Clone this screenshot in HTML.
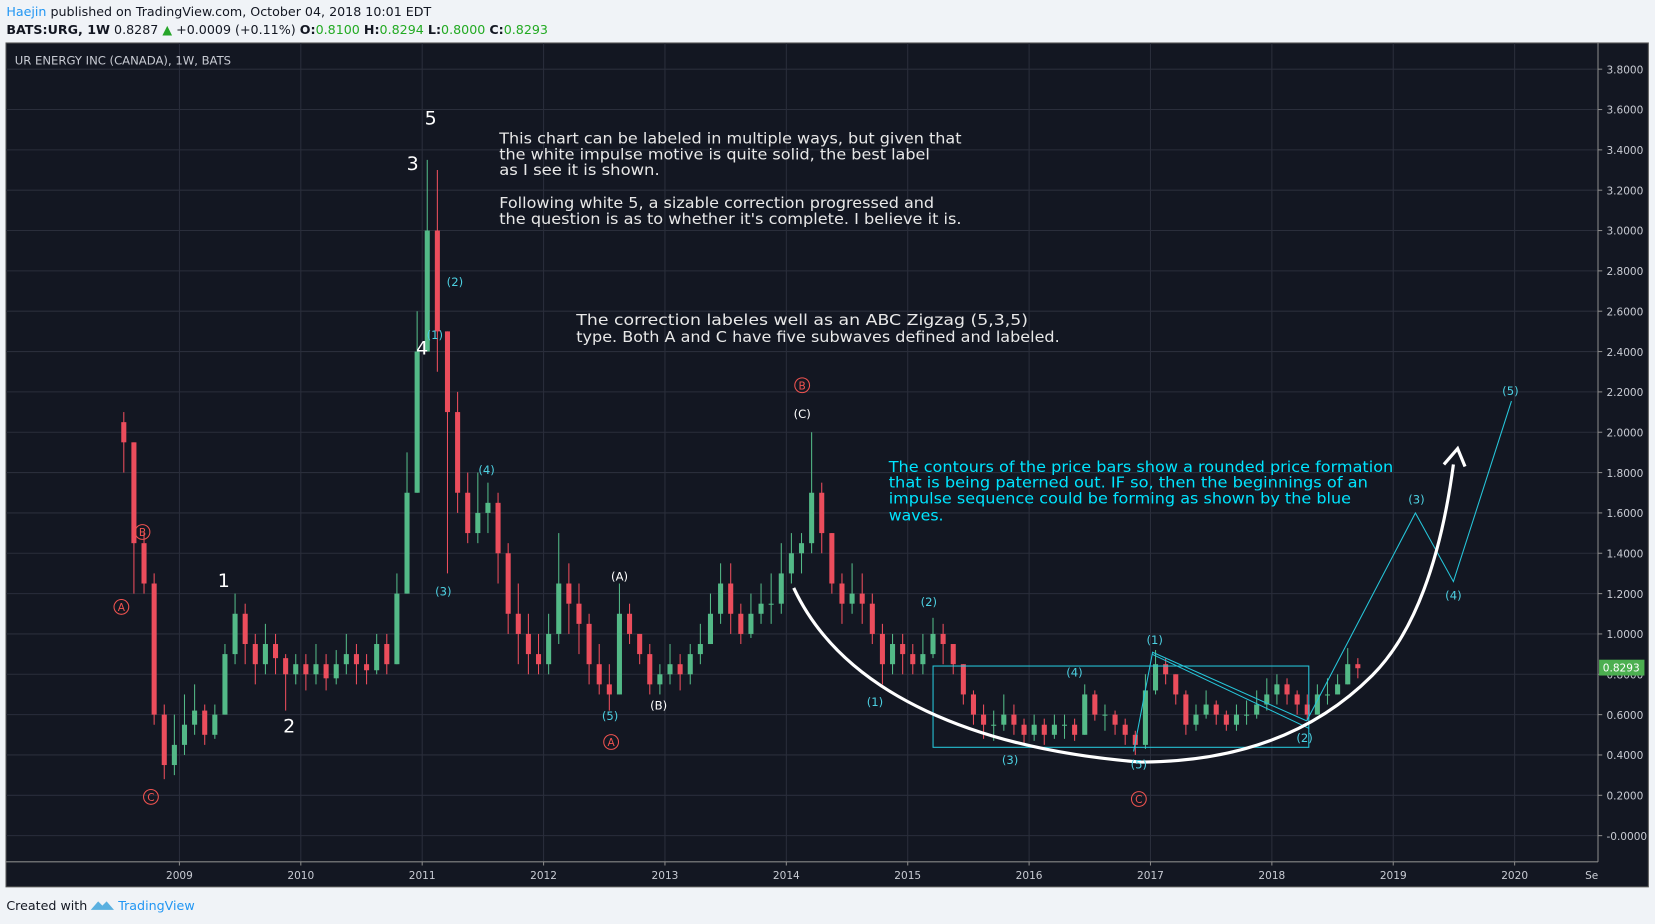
<!DOCTYPE html>
<html><head><meta charset="utf-8">
<style>
html,body{margin:0;padding:0;background:#f0f3f7;}
svg{display:block;}
text{font-family:"DejaVu Sans","Liberation Sans",sans-serif;}
</style></head>
<body>
<svg id="chart" width="1655" height="924" viewBox="0 0 1568 875.4" xmlns="http://www.w3.org/2000/svg">
  <rect x="0" y="0" width="1568" height="875.4" fill="#f0f3f7"/>
  <text x="6" y="15" font-size="12" fill="#131722"><tspan fill="#2196f3">Haejin</tspan> published on TradingView.com, October 04, 2018 10:01 EDT</text>
  <text x="6" y="32" font-size="12" fill="#131722"><tspan font-weight="bold">BATS:URG, 1W</tspan> 0.8287 <tspan fill="#26a629">▲</tspan> +0.0009 (+0.11%) <tspan font-weight="bold">O:</tspan><tspan fill="#22aa22">0.8100</tspan> <tspan font-weight="bold">H:</tspan><tspan fill="#22aa22">0.8294</tspan> <tspan font-weight="bold">L:</tspan><tspan fill="#22aa22">0.8000</tspan> <tspan font-weight="bold">C:</tspan><tspan fill="#22aa22">0.8293</tspan></text>
  <rect x="5.7" y="40.7" width="1556" height="799.5" fill="#131722" stroke="#555" stroke-width="1"/>
  <g id="grid"></g>
  <line x1="1514" y1="40.7" x2="1514" y2="816.5" stroke="#888" stroke-width="1"/>
  <line x1="5.7" y1="816.5" x2="1514" y2="816.5" stroke="#888" stroke-width="1"/>
  <g id="axes"></g>
  <text x="14" y="61" font-size="11" fill="#c8cbd3">UR ENERGY INC (CANADA), 1W, BATS</text>
  <g id="candles"></g>
  <g id="overlay">
    <rect x="884" y="631" width="356" height="77" fill="none" stroke="#26c6da" stroke-width="1"/>
    <polyline points="1074,712 1092,618 1238,683" fill="none" stroke="#26c6da" stroke-width="1"/>
    <polyline points="1092,620 1240,690" fill="none" stroke="#26c6da" stroke-width="1"/>
    <polyline points="1238,683 1341,486 1377,551 1432,380" fill="none" stroke="#26c6da" stroke-width="1"/>
    <path d="M752,557 C800,660 930,710 1080,722 C1180,722 1250,690 1300,640 C1340,600 1365,530 1377,440" fill="none" stroke="#ffffff" stroke-width="3"/>
    <polyline points="1368,440 1381,425 1388,442" fill="none" stroke="#ffffff" stroke-width="3"/>
    <g font-size="14" fill="#e8e8e8">
      <text x="473" y="136" textLength="438" lengthAdjust="spacingAndGlyphs">This chart can be labeled in multiple ways, but given that</text>
      <text x="473" y="151" textLength="408" lengthAdjust="spacingAndGlyphs">the white impulse motive is quite solid, the best label</text>
      <text x="473" y="166" textLength="152" lengthAdjust="spacingAndGlyphs">as I see it is shown.</text>
      <text x="473" y="197" textLength="412" lengthAdjust="spacingAndGlyphs">Following white 5, a sizable correction progressed and</text>
      <text x="473" y="212" textLength="438" lengthAdjust="spacingAndGlyphs">the question is as to whether it's complete. I believe it is.</text>
      <text x="546" y="308" textLength="428" lengthAdjust="spacingAndGlyphs">The correction labeles well as an ABC Zigzag (5,3,5)</text>
      <text x="546" y="324" textLength="458" lengthAdjust="spacingAndGlyphs">type. Both A and C have five subwaves defined and labeled.</text>
    </g>
    <g font-size="14" fill="#00e5ff">
      <text x="842" y="447" textLength="478" lengthAdjust="spacingAndGlyphs">The contours of the price bars show a rounded price formation</text>
      <text x="842" y="462" textLength="454" lengthAdjust="spacingAndGlyphs">that is being paterned out. IF so, then the beginnings of an</text>
      <text x="842" y="477" textLength="438" lengthAdjust="spacingAndGlyphs">impulse sequence could be forming as shown by the blue</text>
      <text x="842" y="493" textLength="52" lengthAdjust="spacingAndGlyphs">waves.</text>
    </g>
    <g fill="#ffffff" font-size="18" text-anchor="middle">
      <text x="408" y="118">5</text><text x="391" y="161">3</text><text x="400" y="336">4</text>
      <text x="212" y="556">1</text><text x="274" y="694">2</text>
    </g>
    <g fill="#ffffff" font-size="11" text-anchor="middle">
      <text x="760" y="396">(C)</text><text x="587" y="550">(A)</text><text x="624" y="672">(B)</text>
    </g>
    <g fill="#4dd0e1" font-size="11" text-anchor="middle">
      <text x="431" y="271">(2)</text><text x="412" y="321">(1)</text><text x="461" y="449">(4)</text><text x="420" y="564">(3)</text>
      <text x="578" y="682">(5)</text><text x="880" y="574">(2)</text><text x="829" y="669">(1)</text><text x="957" y="724">(3)</text>
      <text x="1018" y="641">(4)</text><text x="1079" y="728">(5)</text><text x="1094" y="610">(1)</text><text x="1236" y="703">(2)</text>
      <text x="1342" y="477">(3)</text><text x="1377" y="568">(4)</text><text x="1431" y="374">(5)</text>
    </g>
    <g fill="none" stroke="#ef5350" stroke-width="1">
      <circle cx="115" cy="575" r="7"/><circle cx="135" cy="504" r="7"/><circle cx="143" cy="755" r="7"/>
      <circle cx="579" cy="703" r="7"/><circle cx="760" cy="365" r="7"/><circle cx="1079" cy="757" r="7"/>
    </g>
    <g fill="#ef5350" font-size="10" text-anchor="middle">
      <text x="115" y="579">A</text><text x="135" y="508">B</text><text x="143" y="759">C</text>
      <text x="579" y="707">A</text><text x="760" y="369">B</text><text x="1079" y="761">C</text>
    </g>
  </g>
  <rect x="1515" y="625" width="43" height="15" fill="#4caf50"/>
  <text x="1536" y="636" font-size="10" fill="#fff" text-anchor="middle">0.8293</text>
  <text x="6" y="862" font-size="12" fill="#131722">Created with</text>
  <path d="M86,862 l7,-8 l4,4 l4,-4 l7,8 z" fill="#5ab0e0"/>
  <text x="112" y="862" font-size="12" fill="#2196f3">TradingView</text>
</svg>
<script>
const closes = [1.95,1.45,1.25,0.6,0.35,0.45,
0.55,0.62,0.5,0.6,0.9,1.1,0.95,0.85,0.95,0.88,0.8,0.85,
0.8,0.85,0.78,0.85,0.9,0.85,0.82,0.95,0.85,1.2,1.7,2.4,
3.0,2.5,2.1,1.7,1.5,1.6,1.65,1.4,1.1,1.0,0.9,0.85,
1.0,1.25,1.15,1.05,0.85,0.75,0.7,1.1,1.0,0.9,0.75,0.8,
0.85,0.8,0.9,0.95,1.1,1.25,1.1,1.0,1.1,1.15,1.15,1.3,
1.4,1.45,1.7,1.5,1.25,1.15,1.2,1.15,1.0,0.85,0.95,0.9,
0.85,0.9,1.0,0.95,0.85,0.7,0.6,0.55,0.55,0.6,0.55,0.5,
0.55,0.5,0.55,0.55,0.5,0.7,0.6,0.6,0.55,0.5,0.45,0.72,
0.85,0.8,0.7,0.55,0.6,0.65,0.6,0.55,0.6,0.6,0.65,0.7,
0.75,0.7,0.65,0.6,0.7,0.7,0.75,0.85,0.83];
const highs = [2.1,1.95,1.5,1.3,0.65,0.6,
0.7,0.75,0.65,0.65,0.95,1.2,1.15,1.0,1.05,1.0,0.9,0.9,
0.9,0.95,0.9,0.92,1.0,0.95,0.9,1.0,1.0,1.3,1.9,2.6,
3.35,3.3,2.5,2.2,1.8,1.8,1.75,1.7,1.45,1.25,1.1,1.0,
1.1,1.5,1.35,1.25,1.1,0.95,0.85,1.25,1.15,1.0,0.95,0.85,
0.95,0.9,0.95,1.05,1.2,1.35,1.35,1.15,1.2,1.25,1.3,1.45,
1.5,1.5,2.0,1.75,1.5,1.3,1.35,1.3,1.2,1.05,1.0,1.0,
0.95,1.0,1.08,1.05,0.95,0.85,0.72,0.65,0.62,0.7,0.65,0.58,
0.6,0.58,0.6,0.6,0.58,0.75,0.72,0.65,0.62,0.58,0.52,0.8,
0.92,0.88,0.8,0.72,0.65,0.72,0.67,0.62,0.65,0.67,0.72,0.78,
0.8,0.78,0.72,0.7,0.75,0.78,0.8,0.93,0.88];
const lows = [1.8,1.2,1.2,0.55,0.28,0.3,
0.4,0.5,0.45,0.48,0.6,0.85,0.85,0.75,0.8,0.8,0.62,0.75,
0.72,0.75,0.72,0.75,0.8,0.75,0.75,0.8,0.8,0.85,1.2,1.7,
2.4,2.3,1.3,1.6,1.45,1.45,1.5,1.25,1.0,0.85,0.8,0.8,
0.8,0.95,1.0,0.9,0.75,0.7,0.62,0.7,0.95,0.85,0.7,0.7,
0.75,0.72,0.75,0.85,0.95,1.05,1.0,0.95,0.98,1.05,1.05,1.1,
1.25,1.3,1.4,1.4,1.2,1.05,1.1,1.05,0.95,0.75,0.8,0.8,
0.8,0.8,0.88,0.85,0.8,0.65,0.55,0.48,0.47,0.52,0.5,0.45,
0.47,0.45,0.48,0.48,0.47,0.5,0.57,0.52,0.5,0.45,0.4,0.43,
0.7,0.75,0.65,0.5,0.52,0.58,0.55,0.52,0.52,0.55,0.58,0.62,
0.65,0.65,0.6,0.57,0.6,0.65,0.7,0.75,0.78];
const firstOpen = 2.05;
const startYear = 2008.5;
const priceTicks = ["3.8000","3.6000","3.4000","3.2000","3.0000","2.8000","2.6000","2.4000","2.2000","2.0000","1.8000","1.6000","1.4000","1.2000","1.0000","0.8000","0.6000","0.4000","0.2000","-0.0000"];
const yearTicks = ["2009","2010","2011","2012","2013","2014","2015","2016","2017","2018","2019","2020"];

const NS = "http://www.w3.org/2000/svg";
function yScale(p){ return 791.7 - p*191.1; }
function xScale(t){ return 170 + (t-2009)*115; }
function mk(tag, attrs, parent){ const e=document.createElementNS(NS,tag); for(const k in attrs) e.setAttribute(k,attrs[k]); parent.appendChild(e); return e; }

const grid=document.getElementById('grid'), axes=document.getElementById('axes'), cg=document.getElementById('candles');
priceTicks.forEach(s=>{
  const y=yScale(parseFloat(s));
  const gl=mk('line',{x1:5.7,x2:1514,y1:y,y2:y,stroke:'#2a2e3b','stroke-width':1},grid);
  
  
  mk('line',{x1:1514,x2:1518,y1:y,y2:y,stroke:'#888'},axes);
  const t=mk('text',{x:1522,y:y+4,'font-size':10,fill:'#c8cbd3'},axes);
  t.textContent=s;
  
  
});
yearTicks.forEach(s=>{
  const x=xScale(parseFloat(s));
  const gl=mk('line',{x1:x,x2:x,y1:40.7,y2:816.5,stroke:'#2a2e3b','stroke-width':1},grid);
  
  
  mk('line',{x1:x,x2:x,y1:816.5,y2:820,stroke:'#888'},axes);
  const t=mk('text',{x:x,y:833,'font-size':10,fill:'#c8cbd3','text-anchor':'middle'},axes);
  t.textContent=s;
  
  
});
const se=mk('text',{x:1508,y:833,'font-size':10,fill:'#c8cbd3','text-anchor':'middle'},axes);
se.textContent='Se';



const step = 115/12;
closes.forEach((c,i)=>{
  const o = i===0 ? firstOpen : closes[i-1];
  const x = xScale(startYear + i/12 + 1/24);
  const up = c>=o;
  const col = up ? '#53b987' : '#eb4d5c';
  const w = mk('line',{x1:x,x2:x,y1:yScale(highs[i]),y2:yScale(lows[i]),stroke:col,'stroke-width':1},cg);
  
  
  const top=yScale(Math.max(o,c)), bot=yScale(Math.min(o,c));
  const b = mk('rect',{x:x-step*0.25,y:top,width:step*0.5,height:Math.max(1,bot-top),fill:col},cg);
  
  
});
</script>
</body></html>
